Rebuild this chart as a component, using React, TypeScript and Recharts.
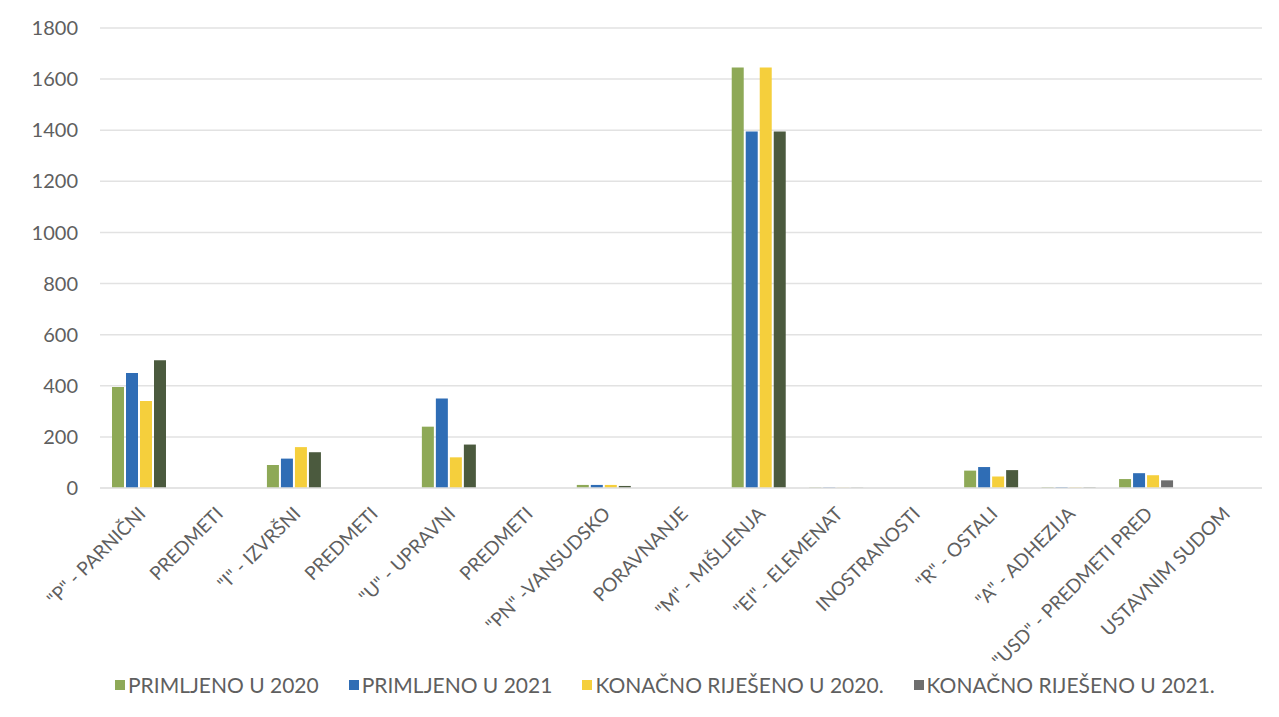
import React from "react";
import { BarChart, Bar, XAxis, YAxis, CartesianGrid, Cell } from "recharts";

const categories = [
  '"P" - PARNIČNI',
  "PREDMETI",
  '"I" - IZVRŠNI',
  "PREDMETI",
  '"U" - UPRAVNI',
  "PREDMETI",
  '"PN" -VANSUDSKO',
  "PORAVNANJE",
  '"M" - MIŠLJENJA',
  '"EI" - ELEMENAT',
  "INOSTRANOSTI",
  '"R" - OSTALI',
  '"A" - ADHEZIJA',
  '"USD" - PREDMETI PRED',
  "USTAVNIM SUDOM",
];

const primljeno2020 = [395, 0, 90, 0, 240, 0, 12, 0, 1645, 2, 0, 68, 3, 35, 0];
const primljeno2021 = [450, 0, 115, 0, 350, 0, 12, 0, 1395, 2, 0, 82, 3, 58, 0];
const rijeseno2020 = [340, 0, 160, 0, 120, 0, 12, 0, 1645, 1, 0, 45, 2, 50, 0];
const rijeseno2021 = [500, 0, 140, 0, 170, 0, 8, 0, 1395, 1, 0, 70, 2, 30, 0];

const yTicks = [0, 200, 400, 600, 800, 1000, 1200, 1400, 1600, 1800];

const series = [
  { key: "p2020", name: "PRIMLJENO U 2020", color: "#8ea957", legend: "#8ea957" },
  { key: "p2021", name: "PRIMLJENO U 2021", color: "#2f6db5", legend: "#2f6db5" },
  { key: "r2020", name: "KONAČNO RIJEŠENO U 2020.", color: "#f5cf3c", legend: "#f5cf3c" },
  { key: "r2021", name: "KONAČNO RIJEŠENO U 2021.", color: "#4b5a3e", legend: "#6e6e6e" },
];

const data = categories.map((name, i) => ({
  name,
  p2020: primljeno2020[i],
  p2021: primljeno2021[i],
  r2020: rijeseno2020[i],
  r2021: rijeseno2021[i],
}));

const textColor = "#5f5f5f";
const font = "Lato, 'Open Sans', sans-serif";

function AngledTick({ x, y, payload }: { x?: number; y?: number; payload?: { value: string } }) {
  const tx = (x ?? 0) + 8;
  const ty = (y ?? 0) + 19;
  return (
    <text
      x={tx}
      y={ty}
      transform={`rotate(-45 ${tx} ${ty})`}
      textAnchor="end"
      fill={textColor}
      fontSize={19}
      fontFamily={font}
    >
      {payload?.value}
    </text>
  );
}

export default function App() {
  return (
    <div
      style={{
        position: "absolute",
        left: 0,
        top: 0,
        width: 1279,
        height: 717,
        background: "#fff",
        fontFamily: font,
      }}
    >
      <BarChart
        width={1279}
        height={717}
        data={data}
        margin={{ top: 28, right: 17, left: 0, bottom: 29 }}
        barSize={12}
        barGap={2}
      >
        <CartesianGrid vertical={false} stroke="#e2e2e2" strokeWidth={1.5} />
        <XAxis
          dataKey="name"
          interval={0}
          height={200}
          tick={<AngledTick />}
          tickLine={false}
          axisLine={{ stroke: "#e2e2e2", strokeWidth: 1.5 }}
        />
        <YAxis
          width={100}
          domain={[0, 1800]}
          ticks={yTicks}
          tickLine={false}
          axisLine={false}
          tickMargin={16}
          tick={{ fontSize: 20, fill: textColor, fontFamily: font }}
        />
        {series.map((s) => (
          <Bar key={s.key} dataKey={s.key} name={s.name} fill={s.color} isAnimationActive={false}>
            {s.key === "r2021" &&
              data.map((d, i) => (
                <Cell key={i} fill={d.name.startsWith('"USD"') ? "#6e6e6e" : s.color} />
              ))}
          </Bar>
        ))}
      </BarChart>
      <div
        style={{
          position: "absolute",
          left: 115,
          top: 672,
          display: "flex",
          gap: 30,
          fontSize: 21,
          color: textColor,
          whiteSpace: "nowrap",
        }}
      >
        {series.map((s) => (
          <div key={s.key} style={{ display: "flex", alignItems: "center" }}>
            <span
              style={{
                display: "inline-block",
                width: 10,
                height: 10,
                background: s.legend,
                marginRight: 3,
              }}
            />
            {s.name}
          </div>
        ))}
      </div>
    </div>
  );
}
